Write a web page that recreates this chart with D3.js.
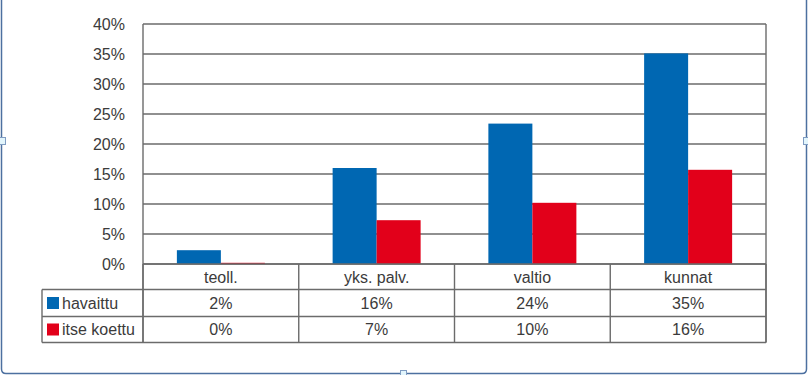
<!DOCTYPE html>
<html>
<head>
<meta charset="utf-8">
<script src="https://cdn.jsdelivr.net/npm/d3@7"></script>
<style>
  html, body { margin: 0; padding: 0; background: #fff; }
  svg { display: block; }
  text { font-family: "Liberation Sans", Arial, sans-serif; fill: #3b3b3b; }
</style>
</head>
<body>
<svg width="808" height="375"></svg>
<script>
// values (bars) and the table labels
const categories = ["teoll.", "yks. palv.", "valtio", "kunnat"];
const seriesNames = ["havaittu", "itse koettu"];
const seriesColors = ["#0067b2", "#e2001a"];
const havaittu = [2.3, 16.0, 23.4, 35.1];
const itseKoettu = [0.2, 7.3, 10.2, 15.7];
const havaittuLabels = ["2%", "16%", "24%", "35%"];
const itseKoettuLabels = ["0%", "7%", "10%", "16%"];
const yTicks = [0, 5, 10, 15, 20, 25, 30, 35, 40];

const svg = d3.select("svg");
const plotL = 143, plotR = 766, plotT = 24, plotB = 264;
const rowH = [25.5, 27, 26];  // table rows
const tableLeft = 42;
const lineCol = "#6b6b6b";

// outer frame (object selection border)
const frame = svg.append("g");
frame.append("path")
  .attr("d", "M1.5,-5 V369 Q1.5,373.5 6,373.5 H802 Q806.5,373.5 806.5,369 V-5")
  .attr("fill", "none").attr("stroke", "#4d70a0").attr("stroke-width", 1.5);
[[-1, 137], [803, 137], [400, 370]].forEach(p => {
  frame.append("rect").attr("x", p[0] + 0.5).attr("y", p[1] + 0.5)
    .attr("width", 6).attr("height", 7)
    .attr("fill", "#e2f5fc").attr("stroke", "#7f9cc2").attr("stroke-width", 1);
});

const x = d3.scaleBand().domain(categories).range([plotL, plotR])
  .paddingInner(0.435).paddingOuter(0.2175);
const xs = d3.scaleBand().domain(seriesNames).range([0, x.bandwidth()]);
const y = d3.scaleLinear().domain([0, 40]).range([plotB, plotT]);

// gridlines
svg.append("g").selectAll("line").data(yTicks).join("line")
  .attr("x1", plotL).attr("x2", plotR)
  .attr("y1", d => y(d)).attr("y2", d => y(d))
  .attr("stroke", lineCol).attr("stroke-width", 1.4);

// y labels
svg.append("g").selectAll("text").data(yTicks).join("text")
  .attr("x", 125).attr("y", d => y(d)).attr("dy", "0.36em")
  .attr("text-anchor", "end").attr("font-size", 16)
  .text(d => d + "%");

// bars
const seriesData = [havaittu, itseKoettu];
seriesData.forEach((vals, si) => {
  svg.append("g").selectAll("rect").data(vals).join("rect")
    .attr("x", (d, i) => x(categories[i]) + xs(seriesNames[si]))
    .attr("y", d => y(d))
    .attr("width", xs.bandwidth())
    .attr("height", d => y(0) - y(d))
    .attr("fill", seriesColors[si]);
});

// table
const r1 = plotB + rowH[0], r2 = r1 + rowH[1], r3 = r2 + rowH[2];
const colEdges = categories.map(c => x(c) - x.step() * x.paddingInner() / 2);
colEdges[0] = plotL;
colEdges.push(plotR);
const t = svg.append("g").attr("stroke", lineCol).attr("stroke-width", 1.4).attr("fill", "none");
t.append("line").attr("x1", plotL).attr("x2", plotL).attr("y1", plotT).attr("y2", r3);
t.append("line").attr("x1", plotR).attr("x2", plotR).attr("y1", plotT).attr("y2", r3);
colEdges.forEach(ex => t.append("line").attr("x1", ex).attr("x2", ex).attr("y1", plotB).attr("y2", r3));
t.append("line").attr("x1", tableLeft).attr("x2", tableLeft).attr("y1", r1).attr("y2", r3);
t.append("line").attr("x1", plotL).attr("x2", plotR).attr("y1", plotB).attr("y2", plotB);
[r1, r2, r3].forEach(ry => t.append("line").attr("x1", tableLeft).attr("x2", plotR).attr("y1", ry).attr("y2", ry));

const cx = c => x(c) + x.bandwidth() / 2;
svg.append("g").selectAll("text").data(categories).join("text")
  .attr("x", d => cx(d)).attr("y", (plotB + r1) / 2).attr("dy", "0.36em")
  .attr("text-anchor", "middle").attr("font-size", 16).text(d => d);

[havaittuLabels, itseKoettuLabels].forEach((labs, si) => {
  const ry = si === 0 ? (r1 + r2) / 2 : (r2 + r3) / 2;
  svg.append("g").selectAll("text").data(labs).join("text")
    .attr("x", (d, i) => cx(categories[i])).attr("y", ry).attr("dy", "0.36em")
    .attr("text-anchor", "middle").attr("font-size", 16).text(d => d);
  svg.append("rect").attr("x", 47).attr("y", ry - 6).attr("width", 12).attr("height", 12)
    .attr("fill", seriesColors[si]);
  svg.append("text").attr("x", 62).attr("y", ry).attr("dy", "0.36em")
    .attr("font-size", 16).text(seriesNames[si]);
});
</script>
</body>
</html>
